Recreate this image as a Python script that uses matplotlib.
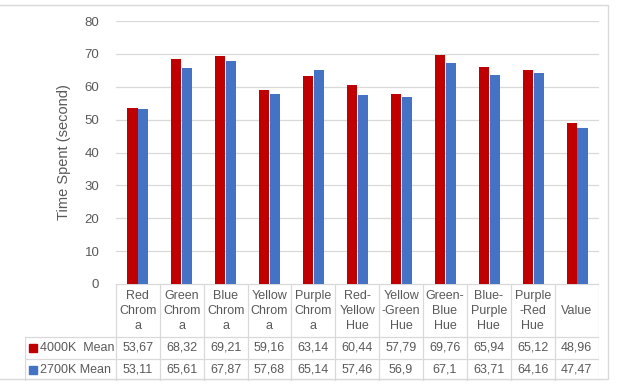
import matplotlib as mpl
import matplotlib.pyplot as plt
import numpy as np

categories = ["Red\nChrom\na", "Green\nChrom\na", "Blue\nChrom\na", "Yellow\nChrom\na",
              "Purple\nChrom\na", "Red-\nYellow\nHue", "Yellow\n-Green\nHue", "Green-\nBlue\nHue",
              "Blue-\nPurple\nHue", "Purple\n-Red\nHue", "Value"]
mean_4000k = [53.67, 68.32, 69.21, 59.16, 63.14, 60.44, 57.79, 69.76, 65.94, 65.12, 48.96]
mean_2700k = [53.11, 65.61, 67.87, 57.68, 65.14, 57.46, 56.9, 67.1, 63.71, 64.16, 47.47]
series_names = ["4000K  Mean", "2700K Mean"]
colors = ["#C00000", "#4472C4"]

mpl.rcdefaults()
plt.rcParams['font.family'] = ['Liberation Sans', 'DejaVu Sans']
txt = "#595959"
line = "#D9D9D9"

W, H = 618, 384
X0, X1, Y0, Y1 = 116, 599, 284, 21   # plot area in pixels
TL, TB = 25, 381                     # table left / bottom in pixels
fig = plt.figure(figsize=(W / 100, H / 100), dpi=100)
ax = fig.add_axes([X0 / W, 1 - Y0 / H, (X1 - X0) / W, (Y0 - Y1) / H])

n = len(categories)
x = np.arange(n)
bw = 0.23
ax.bar(x - 0.125, mean_4000k, bw, color=colors[0], zorder=3)
ax.bar(x + 0.125, mean_2700k, bw, color=colors[1], zorder=3)

ax.set_xlim(-0.5, n - 0.5)
ax.set_ylim(0, 80)
ax.set_yticks(range(0, 81, 10))
ax.minorticks_off()
ax.grid(False, which='both')
ax.yaxis.grid(True, which='major', color=line, lw=0.9, zorder=0)
ax.tick_params(axis='y', length=0, labelsize=9.5, labelcolor=txt, pad=12)
ax.set_xticks([])
for s in ax.spines.values():
    s.set_visible(False)
ax.set_ylabel("Time Spent (second)", fontsize=10.5, color=txt, labelpad=10)

# data table under the plot, in its own axes with pixel units
tax = fig.add_axes([TL / W, 1 - TB / H, (X1 - TL) / W, (TB - Y0) / H])
tax.set_xlim(TL, X1 + 0.5)
tax.set_ylim(TB + 0.5, Y0)
tax.axis('off')

col_w = (X1 - X0) / n
edges = X0 + col_w * np.arange(n + 1)
for e in edges:
    tax.plot([e, e], [Y0, TB], color=line, lw=0.9)
tax.plot([TL + 0.5, TL + 0.5], [337, TB], color=line, lw=0.9)
tax.plot([X0, X1], [Y0, Y0], color=line, lw=0.9)
for py in (337, 359, TB):
    tax.plot([TL, X1], [py, py], color=line, lw=0.9)

for i, c in enumerate(categories):
    tax.text(edges[i] + col_w / 2, 311, c, ha='center', va='center', fontsize=9,
             color=txt, linespacing=1.35)
for row, (vals, name, col) in enumerate(zip([mean_4000k, mean_2700k], series_names, colors)):
    py = 348 + 22 * row
    for i, v in enumerate(vals):
        tax.text(edges[i] + col_w / 2, py, f"{v:g}".replace('.', ','),
                 ha='center', va='center', fontsize=9, color=txt)
    tax.add_patch(plt.Rectangle((29, py - 4), 8, 8, color=col))
    tax.text(40, py, name, ha='left', va='center', fontsize=9, color=txt)

# chart border
fig.patches.append(plt.Rectangle((-5 / W, 5 / H), (608 + 5) / W, (379 - 5) / H,
                                 transform=fig.transFigure, fill=False,
                                 edgecolor=line, lw=1))

fig.savefig("out.png", dpi=100)
